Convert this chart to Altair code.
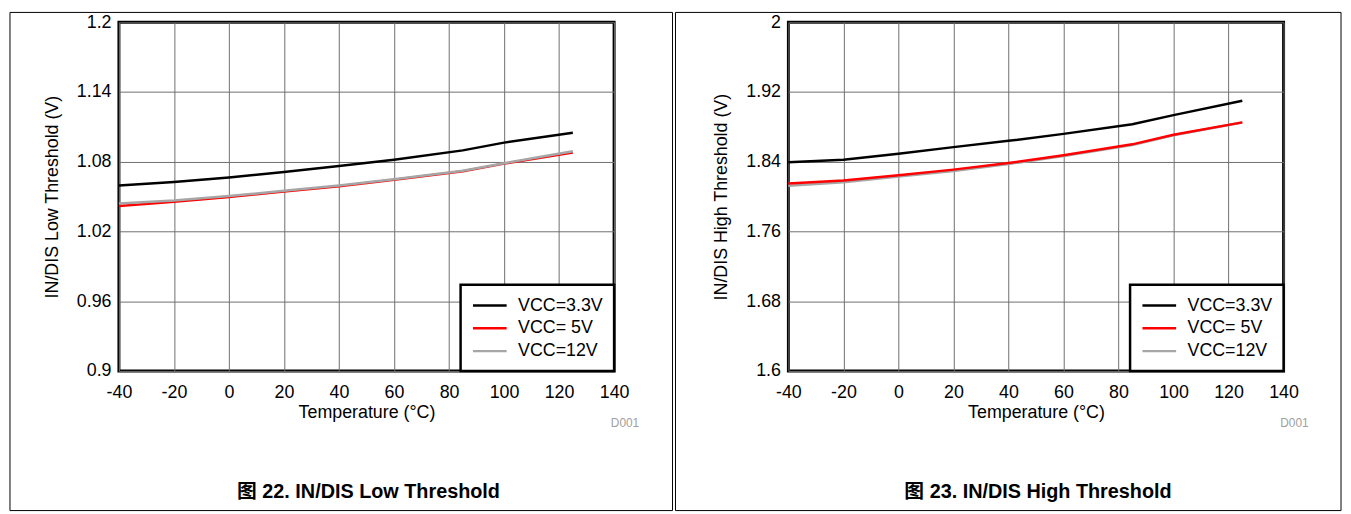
import altair as alt
import pandas as pd

# ---- data ----
temps = [-40, -20, 0, 20, 40, 60, 85, 100, 125]
series_names = ["VCC=3.3V", "VCC= 5V", "VCC=12V"]
series_colors = ["#000000", "#ff0000", "#a6a6a6"]

low_33 = [1.0595, 1.0625, 1.0665, 1.0712, 1.0763, 1.0818, 1.0898, 1.0965, 1.1050]
low_5 = [1.0420, 1.0455, 1.0497, 1.0543, 1.0590, 1.0645, 1.0718, 1.0784, 1.0880]
low_12 = [1.0440, 1.0467, 1.0505, 1.0550, 1.0596, 1.0650, 1.0722, 1.0787, 1.0890]

high_33 = [1.8394, 1.8424, 1.8492, 1.8568, 1.8640, 1.8720, 1.8830, 1.8935, 1.9100]
high_5 = [1.8150, 1.8185, 1.8246, 1.8310, 1.8386, 1.8474, 1.8600, 1.8710, 1.8852]
high_12 = [1.8125, 1.8165, 1.8230, 1.8295, 1.8375, 1.8465, 1.8592, 1.8705, 1.8850]

x_ticks = [-40, -20, 0, 20, 40, 60, 80, 100, 120, 140]
low_ticks = [0.9, 0.96, 1.02, 1.08, 1.14, 1.2]
high_ticks = [1.6, 1.68, 1.76, 1.84, 1.92, 2.0]

FONT = "Liberation Sans, Arial, Noto Sans CJK SC"
W, H = 500, 352


def build_df(series_in_draw_order):
    rows = []
    for name, vals in series_in_draw_order:
        for t, v in zip(temps, vals):
            rows.append({"T": t, "V": v, "S": name})
    return pd.DataFrame(rows)


def panel(draw_order, ydom, yticks, ytitle, caption, frame_x, frame_x2):
    df = build_df(draw_order)
    lines = alt.Chart(df).mark_line(strokeWidth=2.5).encode(
        x=alt.X("T:Q", scale=alt.Scale(domain=[-40, 140], nice=False),
                axis=alt.Axis(values=x_ticks, title="Temperature (°C)",
                              labelExpr="'' + datum.value", labelOverlap=False,
                              labelPadding=13, titlePadding=2)),
        y=alt.Y("V:Q", scale=alt.Scale(domain=ydom, nice=False, zero=False),
                axis=alt.Axis(values=yticks, title=ytitle,
                              labelExpr="'' + datum.value", labelOverlap=False,
                              labelPadding=8, titlePadding=15)),
        color=alt.Color("S:N", scale=alt.Scale(domain=series_names, range=series_colors),
                        legend=alt.Legend(orient="bottom-right", offset=0, title=None,
                                          symbolType="M-1,0L3,0", symbolSize=289,
                                          symbolStrokeWidth=2.5, labelFontSize=18,
                                          labelFont=FONT, labelColor="black",
                                          labelOffset=27, rowPadding=4, padding=11,
                                          strokeColor="black", fillColor="white",
                                          labelLimit=0)),
    )
    frame = alt.Chart(pd.DataFrame({"a": [0]})).mark_rect(
        stroke="black", strokeWidth=1, fillOpacity=0, fill="white"
    ).encode(x=alt.value(frame_x), x2=alt.value(frame_x2), y=alt.value(-10), y2=alt.value(493))
    cap = alt.Chart(pd.DataFrame({"t": [caption]})).mark_text(
        font=FONT, fontSize=20, fontWeight="bold", align="center", baseline="middle", color="black"
    ).encode(text="t:N", x=alt.value(252), y=alt.value(474))
    tag = alt.Chart(pd.DataFrame({"t": ["D001"]})).mark_text(
        font=FONT, fontSize=12, align="center", baseline="middle", color="#a0a0a0"
    ).encode(text="t:N", x=alt.value(511), y=alt.value(405))
    return alt.layer(frame, lines, cap, tag).properties(width=W, height=H)


left = panel([(series_names[1], low_5), (series_names[2], low_12), (series_names[0], low_33)],
             [0.9, 1.2], low_ticks,
             "IN/DIS Low Threshold (V)", "图 22. IN/DIS Low Threshold", -110, 559)
right = panel([(series_names[2], high_12), (series_names[1], high_5), (series_names[0], high_33)],
              [1.6, 2.0], high_ticks,
              "IN/DIS High Threshold (V)", "图 23. IN/DIS High Threshold", -114, 558)

chart = alt.hconcat(left, right, spacing=-1).resolve_scale(
    color="independent", x="independent", y="independent"
).resolve_legend(color="independent").properties(
    padding={"left": 0, "top": 0, "right": 0, "bottom": 0}
).configure_view(
    stroke="black", strokeWidth=3
).configure_axis(
    grid=True, gridColor="#6e6e6e", gridWidth=1, domain=False, ticks=False,
    labelFont=FONT, labelFontSize=18, labelColor="black", labelFlush=False,
    titleFont=FONT, titleFontSize=18, titleFontWeight="normal", titleColor="black",
).configure_legend(
    strokeWidth=2.5
)

chart.save("out.html", embed_options={"renderer": "svg", "actions": False})
